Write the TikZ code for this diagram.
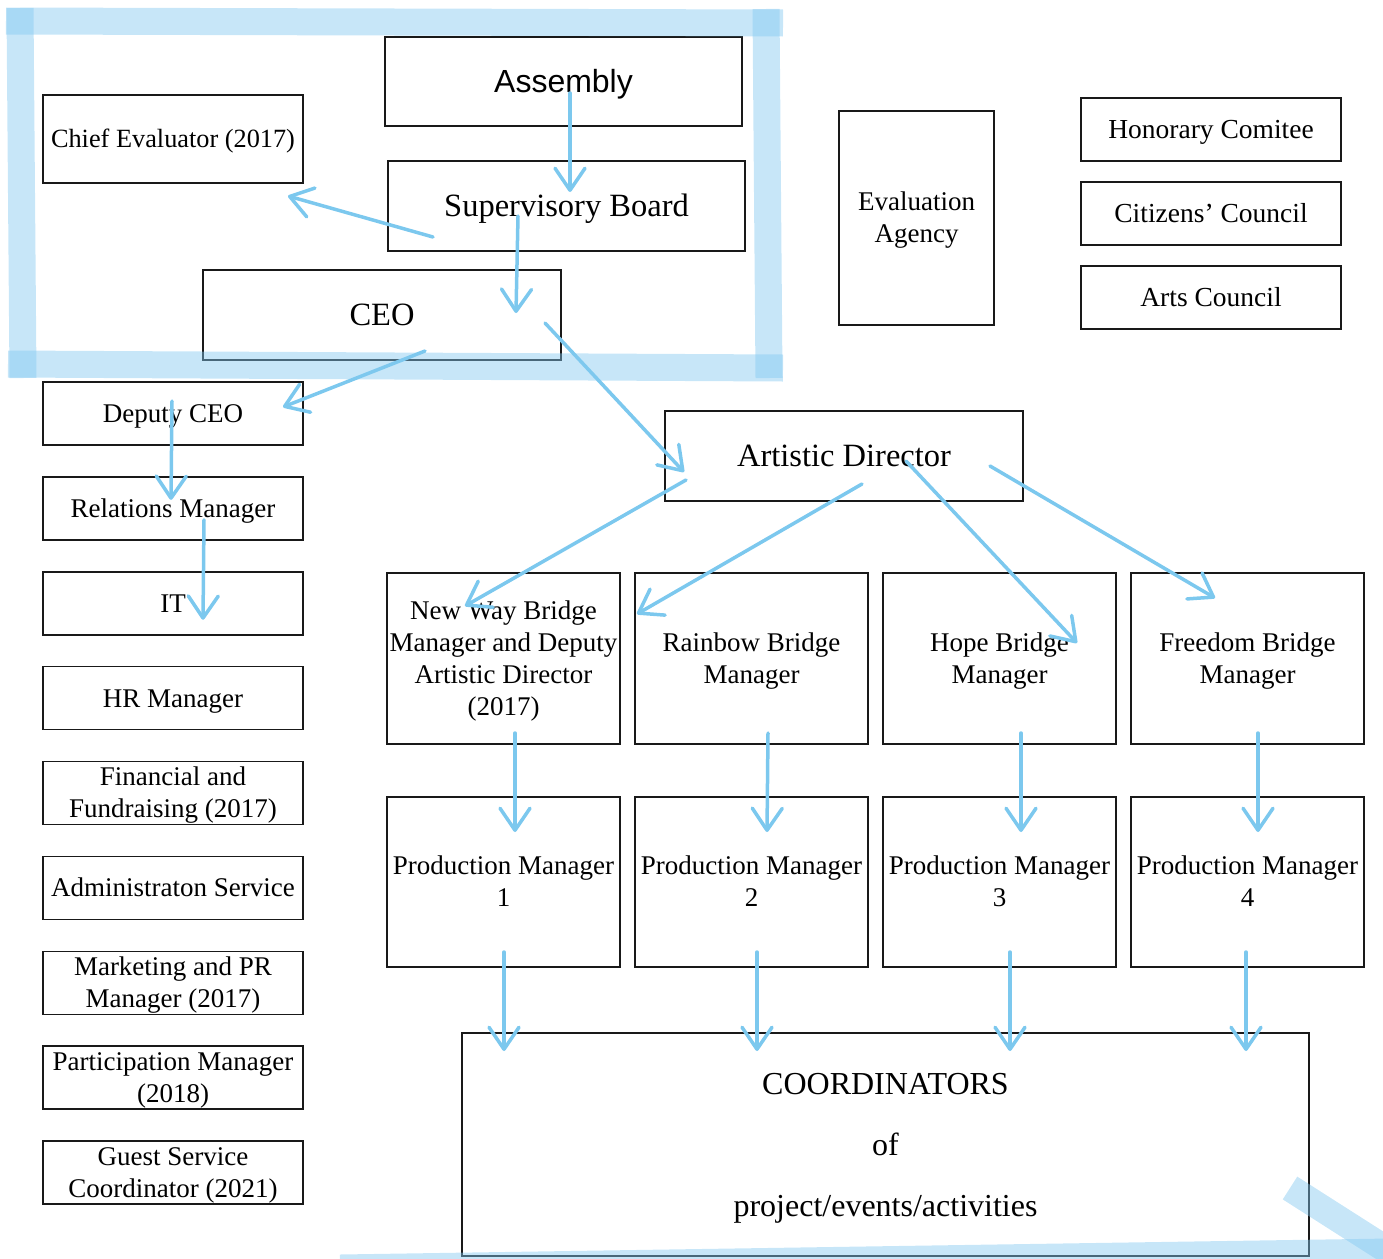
\documentclass[tikz,border=0pt]{standalone}
\usepackage{fontspec}
\setmainfont{Liberation Serif}
\newfontfamily\asmfont{Liberation Sans}
\usetikzlibrary{arrows.meta,calc}
\definecolor{penblue}{RGB}{124,200,238}
\definecolor{bandblue}{RGB}{130,200,240}
\tikzset{
  unit/.style={draw=black!90,line width=1.5pt,inner sep=0pt,align=center,
    font=\fontsize{27}{32}\selectfont,text height=17.8pt,text depth=0pt},
  big/.style={font=\fontsize{32.5}{38}\selectfont,text height=21.4pt},
  link/.style={penblue,line width=3.5pt,line cap=round,-{Straight Barb[length=22pt,width=30pt,round]}},
  band/.style={bandblue,line width=27pt,draw opacity=0.45}
}
\begin{document}
\begin{tikzpicture}[x=1pt,y=-1pt]
\useasboundingbox (0,0) rectangle (1383,1258);
\clip (0,0) rectangle (1383,1258);

\node[unit,minimum width=357pt,minimum height=89pt,font=\asmfont\fontsize{32}{38}\selectfont,text height=22.9pt] (asm) at (563.5,81.5) {Assembly};
\node[unit,big,minimum width=357pt,minimum height=90pt] (sup) at (566.5,206) {Supervisory Board};
\node[unit,minimum width=260pt,minimum height=88pt,font=\fontsize{26.3}{32}\selectfont] (chief) at (173,139) {Chief Evaluator (2017)};
\node[unit,big,minimum width=358pt,minimum height=90pt] (ceo) at (382,315) {CEO};
\node[unit,minimum width=155pt,minimum height=214pt,text height=49.8pt] (evag) at (916.5,218) {Evaluation\\Agency};
\foreach \name/\txt [count=\i from 0] in {hon/Honorary Comitee, cit/Citizens’ Council, arts/Arts Council}
  \node[unit,minimum width=260pt,minimum height=63pt,font=\fontsize{27.5}{32}\selectfont] (\name) at (1211,129.5+84*\i) {\txt};

\foreach \name/\txt/\hh [count=\i from 0] in {dep/Deputy CEO/17.8, rel/Relations Manager/17.8, it/IT/17.8, hr/HR Manager/17.8,
    fin/{Financial and\\Fundraising (2017)}/49.8, adm/Administraton Service/17.8, mkt/{Marketing and PR\\Manager (2017)}/49.8,
    par/{Participation Manager\\(2018)}/49.8, gst/{Guest Service\\Coordinator (2021)}/49.8}
  \node[unit,minimum width=260pt,minimum height=63pt,text height=\hh pt] (\name) at (173,413.5+94.875*\i) {\txt};

\node[unit,big,minimum width=358pt,minimum height=90pt] (ad) at (844,456) {Artistic Director};
\foreach \x/\txt/\hh [count=\i] in {503.5/{New Way Bridge\\Manager and Deputy\\Artistic Director\\(2017)}/113.8,
    751.5/{Rainbow Bridge\\Manager}/49.8, 999.5/{Hope Bridge\\Manager}/49.8, 1247.5/{Freedom Bridge\\Manager}/49.8}
{
  \node[unit,minimum width=233pt,minimum height=171pt,text height=\hh pt] (br\i) at (\x,658.5) {\txt};
  \node[unit,minimum width=233pt,minimum height=170pt,text height=49.8pt] (pm\i) at (\x,882) {Production Manager\\\i};
}
\node[unit,minimum width=847pt,minimum height=223pt,font=\fontsize{32}{61}\selectfont,text height=143.1pt] (crd) at (885.5,1144.5) {COORDINATORS\\of\\project/events/activities};

\draw[link] ($(asm)+(6.5,11.5)$) -- ($(sup)+(3.5,-14)$);
\draw[link] ($(sup)+(-133.5,31)$) -- ($(chief)+(115,57)$);
\draw[link] ($(sup)+(-48.5,10)$) -- ($(ceo)+(134,-2)$);
\draw[link] ($(ceo)+(43,36)$) -- ($(dep)+(110,-6.5)$);
\draw[link] ($(ceo)+(163,8)$) -- ($(ad)+(-160,16)$);
\draw[link] ($(dep)+(-1,-12.5)$) -- ($(rel)+(-2,-8.5)$);
\draw[link] ($(rel)+(31,11.5)$) -- ($(it)+(30,16.5)$);
\draw[link] ($(ad)+(-158,24)$) -- ($(br1)+(-38.5,-52.5)$);
\draw[link] ($(ad)+(18,28)$) -- ($(br2)+(-114.5,-44.5)$);
\draw[link] ($(ad)+(62,5)$) -- ($(br3)+(77.5,-15.5)$);
\draw[link] ($(ad)+(146,10)$) -- ($(br4)+(-32.5,-60.5)$);
\foreach \i/\a/\b in {1/11.5/11.5, 2/16.5/15.5, 3/21.5/21.5, 4/10.5/10.5}
  \draw[link] ($(br\i)+(\a,74.5)$) -- ($(pm\i)+(\b,-50)$);
\foreach \i/\a/\b in {1/0.5/-381.5, 2/5.5/-128.5, 3/10.5/124.5, 4/-1.5/360.5}
  \draw[link] ($(pm\i)+(\a,70)$) -- ($(crd)+(\b,-93.5)$);

% highlighter marks
\draw[band] (6,21) -- (783,23);
\draw[band] (20,8) -- (23,378);
\draw[band] (8,364) -- (783,368);
\draw[band] (766,9) -- (769,378);
\draw[band] (340,1268) -- (1390,1252);
\draw[band] (1290,1188) -- (1395,1255);
\end{tikzpicture}
\end{document}
